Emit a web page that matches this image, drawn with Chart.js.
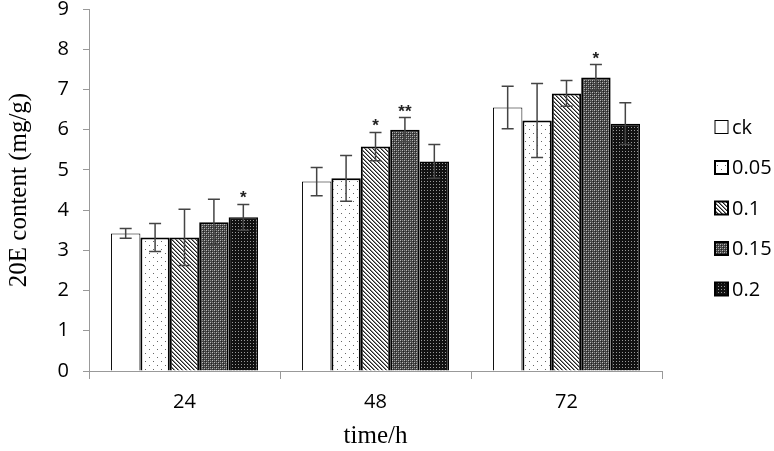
<!DOCTYPE html>
<html><head><meta charset="utf-8">
<script src="https://cdn.jsdelivr.net/npm/chart.js@4/dist/chart.umd.min.js"></script>
<style>html,body{margin:0;padding:0;background:#fff}#wrap{width:774px;height:451px}</style>
</head><body><div id="wrap"><canvas id="c" width="774" height="451"></canvas></div>
<script>
const categories = ['24', '48', '72'];
const seriesNames = ['ck', '0.05', '0.1', '0.15', '0.2'];
const ckValues = [3.42, 4.71, 6.55];
const ckErrors = [0.12, 0.35, 0.53];
const c005Values = [3.32, 4.79, 6.23];
const c005Errors = [0.35, 0.57, 0.92];
const c01Values = [3.32, 5.58, 6.90];
const c01Errors = [0.70, 0.35, 0.32];
const c015Values = [3.70, 6.00, 7.30];
const c015Errors = [0.57, 0.30, 0.32];
const c02Values = [3.82, 5.21, 6.15];
const c02Errors = [0.32, 0.42, 0.52];
const ckStars = ['', '', ''];
const c005Stars = ['', '', ''];
const c01Stars = ['', '*', ''];
const c015Stars = ['', '**', '*'];
const c02Stars = ['*', '', ''];
const yTicks = [0,1,2,3,4,5,6,7,8,9];

function mk(size, draw){const c=document.createElement('canvas');c.width=size;c.height=size;const g=c.getContext('2d');draw(g);return document.getElementById('c').getContext('2d').createPattern(c,'repeat');}
const pWhite = '#ffffff';
const pDots = mk(8, g=>{g.fillStyle='#fff';g.fillRect(0,0,8,8);g.fillStyle='#666';g.fillRect(1,1,1,1);g.fillRect(5,5,1,1);});
const pDiag = mk(4, g=>{g.fillStyle='#fff';g.fillRect(0,0,4,4);g.fillStyle='#222';for(let i=0;i<4;i++){g.fillRect(i,i,1,1);}g.fillStyle='#888';for(let i=0;i<4;i++){g.fillRect((i+1)%4,i,1,1);}});
const pCheck = mk(4, g=>{g.fillStyle='#444';g.fillRect(0,0,4,4);g.fillStyle='#bbb';g.fillRect(0,0,1,1);g.fillRect(2,2,1,1);g.fillStyle='#888';g.fillRect(2,0,1,1);g.fillRect(0,2,1,1);g.fillStyle='#222';g.fillRect(1,1,1,1);g.fillRect(3,3,1,1);});
const pDark = mk(3, g=>{g.fillStyle='#111';g.fillRect(0,0,3,3);g.fillStyle='#999';g.fillRect(1,1,1,1);});

const fills = [pWhite, pDots, pDiag, pCheck, pDark];
const borderW = [1, 2, 2, 2, 1.5];
const valueArrs = [ckValues, c005Values, c01Values, c015Values, c02Values];
const errArrs = [ckErrors, c005Errors, c01Errors, c015Errors, c02Errors];
const starArrs = [ckStars, c005Stars, c01Stars, c015Stars, c02Stars];

const datasets = seriesNames.map((n,i)=>({label:n,data:valueArrs[i],backgroundColor:fills[i],borderColor:'#000',borderWidth:borderW[i],errors:errArrs[i],stars:starArrs[i],borderSkipped:'bottom'}));

const extras = {
  id:'extras',
  afterDatasetsDraw(chart){
    const ctx=chart.ctx, y=chart.scales.y;
    chart.data.datasets.forEach((ds,di)=>{
      const meta=chart.getDatasetMeta(di);
      meta.data.forEach((bar,j)=>{
        const v=ds.data[j], e=ds.errors[j];
        const x=bar.x, yt=y.getPixelForValue(v+e), yb=y.getPixelForValue(v-e);
        ctx.save();ctx.strokeStyle='#444';ctx.lineWidth=1.5;
        ctx.beginPath();ctx.moveTo(x,yt);ctx.lineTo(x,yb);
        ctx.moveTo(x-6,yt);ctx.lineTo(x+6,yt);ctx.moveTo(x-6,yb);ctx.lineTo(x+6,yb);ctx.stroke();
        if(ds.stars[j]){ctx.fillStyle='#222';ctx.font='bold 17px "Liberation Sans"';ctx.textAlign='center';ctx.textBaseline='alphabetic';ctx.fillText(ds.stars[j],x,yt-1);}
        ctx.restore();
      });
    });
    // legend
    ctx.save();
    const lx=715, ly0=127, step=40.5;
    chart.data.datasets.forEach((ds,i)=>{
      const yy=ly0+i*step;
      ctx.fillStyle=ds.backgroundColor;ctx.fillRect(lx,yy-6.5,13,13);
      ctx.strokeStyle='#000';ctx.lineWidth=i===0?1:2;ctx.strokeRect(lx,yy-6.5,13,13);
      ctx.fillStyle='#000';ctx.font='20px "Open Sans"';ctx.textAlign='left';ctx.textBaseline='middle';
      ctx.fillText(ds.label,lx+17,yy+1);
    });
    ctx.restore();
  }
};

new Chart(document.getElementById('c'),{
  type:'bar',
  data:{labels:categories,datasets},
  options:{
    responsive:false,animation:false,
    layout:{padding:{left:0,right:112,top:9,bottom:0}},
    datasets:{bar:{categoryPercentage:0.77,barPercentage:1.0}},
    plugins:{legend:{display:false},tooltip:{enabled:false}},
    scales:{
      x:{
        grid:{display:true,drawOnChartArea:false,drawTicks:true,tickLength:8,color:'#999',offset:true},
        border:{color:'#999',width:1},
        ticks:{color:'#000',font:{family:'Open Sans',size:20},padding:11},
        title:{display:true,text:'time/h',color:'#000',font:{family:'Liberation Serif',size:25},padding:{top:8,bottom:0}},
        afterFit(s){s.height=80;s.paddingLeft=0;s.paddingRight=0;}
      },
      y:{
        min:0,max:9,
        afterBuildTicks(s){s.ticks=yTicks.map(v=>({value:v}));},
        grid:{display:true,drawOnChartArea:false,drawTicks:true,tickLength:6,color:'#999'},
        border:{color:'#999',width:1},
        ticks:{color:'#000',font:{family:'Open Sans',size:20},padding:14},
        title:{display:true,text:'20E content (mg/g)',color:'#000',font:{family:'Liberation Serif',size:25},padding:{bottom:4}},
        afterFit(s){s.width=89;s.paddingTop=0;s.paddingBottom=0;}
      }
    }
  },
  plugins:[extras]
});
</script></body></html>
